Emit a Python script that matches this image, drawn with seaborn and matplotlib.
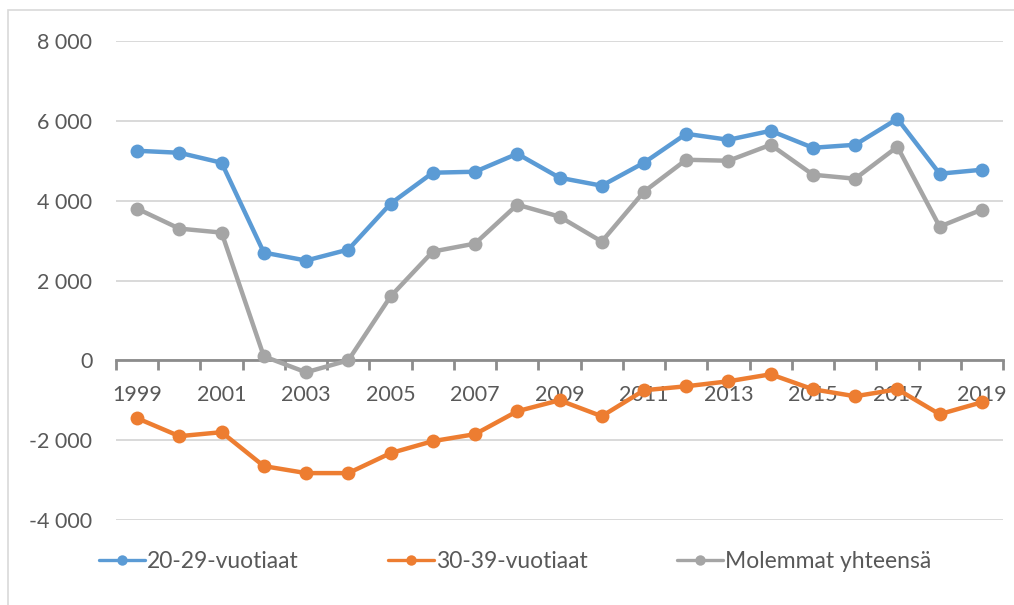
import matplotlib
matplotlib.use("Agg")
import matplotlib.pyplot as plt
from matplotlib.lines import Line2D
from matplotlib.patches import Rectangle
from matplotlib.ticker import FuncFormatter, MultipleLocator, FixedLocator
import seaborn as sns
import pandas as pd

# ── Data ─────────────────────────────────────────────
years = list(range(1999, 2020))
age_20_29 = [5250, 5200, 4950, 2700, 2500, 2775, 3925, 4700, 4725, 5175, 4575,
             4375, 4950, 5675, 5525, 5750, 5325, 5400, 6050, 4675, 4775]
age_30_39 = [-1450, -1900, -1800, -2650, -2825, -2825, -2325, -2025, -1850, -1275, -1000,
             -1400, -750, -650, -525, -350, -725, -900, -725, -1350, -1050]
both_total = [3800, 3300, 3200, 100, -300, 0, 1600, 2725, 2925, 3900, 3600,
              2975, 4225, 5025, 5000, 5400, 4650, 4550, 5350, 3350, 3775]
series_names = ["20-29-vuotiaat", "30-39-vuotiaat", "Molemmat yhteensä"]
colors = ["#5b9bd5", "#ed7d31", "#a5a5a5"]

df = pd.concat([
    pd.DataFrame({"vuosi": years, "arvo": vals, "sarja": name})
    for name, vals in zip(series_names, [age_20_29, age_30_39, both_total])
])

sns.set_theme(style="white")
plt.rcParams["font.family"] = ["Lato", "DejaVu Sans"]

fig = plt.figure(figsize=(10.14, 6.05), dpi=100)
ax = fig.add_axes([116 / 1014, 1 - 520 / 605, (1003 - 116) / 1014, (520 - 41) / 605])

# outer chart frame (cropped on right/bottom)
fig.patches.append(Rectangle((8 / 1014, -0.1), 1.2, 1 - 10 / 605 + 0.1,
                             transform=fig.transFigure, fill=False,
                             edgecolor="#d9d9d9", linewidth=1.2))

sns.lineplot(data=df, x="vuosi", y="arvo", hue="sarja", palette=colors,
             marker="o", markersize=10, markeredgewidth=0, linewidth=3.2,
             sort=False, legend=False, ax=ax)

# ── Axes styling ─────────────────────────────────────
ax.set_xlim(1998.5, 2019.5)
ax.set_ylim(-4000, 8000)
ax.yaxis.set_major_locator(MultipleLocator(2000))
ax.yaxis.set_major_formatter(FuncFormatter(lambda v, p: f"{v:,.0f}".replace(",", " ")))
ax.grid(axis="y", color="#d9d9d9", linewidth=1.4)
ax.set_axisbelow(True)
for s in ["top", "right", "left"]:
    ax.spines[s].set_visible(False)
ax.spines["bottom"].set_position(("data", 0))
ax.spines["bottom"].set_color("#8c8c8c")
ax.spines["bottom"].set_linewidth(2)
ax.spines["bottom"].set_zorder(1.5)

ax.xaxis.set_major_locator(FixedLocator(years[::2]))
ax.xaxis.set_minor_locator(FixedLocator([y - 0.5 for y in years] + [years[-1] + 0.5]))
ax.tick_params(axis="x", which="major", bottom=True, length=0, pad=18,
               labelsize=15.5, labelcolor="#595959")
ax.tick_params(axis="x", which="minor", bottom=True, length=7, width=2,
               color="#8c8c8c", direction="out")
ax.tick_params(axis="y", length=0, pad=17, labelsize=15.5, labelcolor="#595959")
ax.set_xlabel("")
ax.set_ylabel("")

# ── Legend ───────────────────────────────────────────
handles = [Line2D([], [], color=c, linewidth=2.4, marker="o", markersize=7.5,
                  markeredgewidth=0) for c in colors]
fig.legend(handles, series_names, loc="center left", bbox_to_anchor=(99 / 1014, 1 - 562 / 605),
           ncol=3, frameon=False, fontsize=16.5, handlelength=2.0, handletextpad=0.09,
           columnspacing=3.9, borderpad=0, borderaxespad=0, labelcolor="#595959")

fig.savefig("out.png", dpi=100)
